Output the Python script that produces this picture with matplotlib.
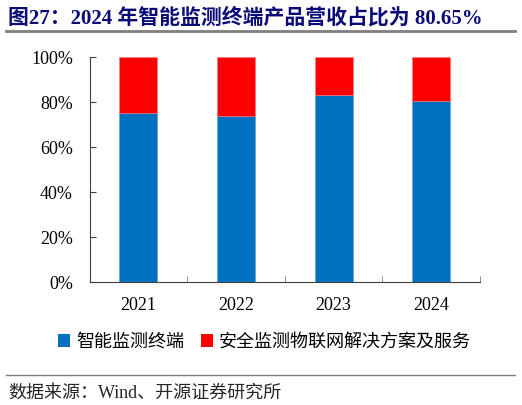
import matplotlib.pyplot as plt
from matplotlib.lines import Line2D
from matplotlib.patches import Patch

years = ['2021', '2022', '2023', '2024']
terminal_share = [75.1, 73.6, 83.0, 80.65]
iot_share = [24.9, 26.4, 17.0, 19.35]
series_names = ['智能监测终端', '安全监测物联网解决方案及服务']
y_ticks = [0, 20, 40, 60, 80, 100]

num_font = ['Liberation Serif', 'Noto Sans CJK SC']
cjk_font = ['Noto Sans CJK SC', 'Liberation Serif']
blue = '#0070C0'
red = '#FF0000'

fig = plt.figure(figsize=(5.22, 4.05), dpi=100)
ax = fig.add_axes([0.1715, 0.3037, 0.748, 0.5553])

x = range(len(years))
ax.bar(x, terminal_share, width=0.39, color=blue, edgecolor='#5a9bd5', linewidth=0.4)
ax.bar(x, iot_share, bottom=terminal_share, width=0.39, color=red,
       edgecolor='#ff7f7f', linewidth=0.4)

ax.set_xlim(-0.5, len(years) - 0.5)
ax.set_ylim(0, 100)
ax.set_yticks(y_ticks)
ax.set_yticklabels([f'{v}%' for v in y_ticks], fontfamily=num_font, fontsize=13)
ax.set_xticks(list(x))
ax.set_xticklabels(years, fontfamily=num_font, fontsize=13)
ax.tick_params(axis='x', which='major', length=0, pad=11)
ax.set_xticks([i + 0.5 for i in range(len(years))], minor=True)
ax.tick_params(axis='x', which='minor', direction='in', length=4, color='#808080')
ax.tick_params(axis='y', direction='in', length=4, color='#404040', pad=12)
for s in ['top', 'right']:
    ax.spines[s].set_visible(False)
ax.spines['left'].set_color('#404040')
ax.spines['bottom'].set_color('#404040')

handles = [Patch(facecolor=blue, edgecolor='none'), Patch(facecolor=red, edgecolor='none')]
fig.legend(handles, series_names, loc='center', bbox_to_anchor=(0.507, 0.156),
           ncol=2, frameon=False, prop={'family': cjk_font, 'size': 13},
           handlelength=0.65, handleheight=0.65, handletextpad=0.35, columnspacing=0.9)

# title and rules
fig.text(0.015, 0.955, '图27：2024 年智能监测终端产品营收占比为 80.65%',
         fontfamily=num_font, fontweight='bold', fontsize=15,
         color='#0B0B78', va='center', ha='left')
fig.add_artist(Line2D([0.012, 0.987], [0.923, 0.923], color='#7f7f7f', linewidth=2))
fig.add_artist(Line2D([0.012, 0.987], [0.074, 0.074], color='#7f7f7f', linewidth=1))
fig.text(0.015, 0.03, '数据来源：Wind、开源证券研究所', fontfamily=num_font,
         fontsize=13, color='#262626', va='center', ha='left')

fig.savefig('out.png', dpi=100)
